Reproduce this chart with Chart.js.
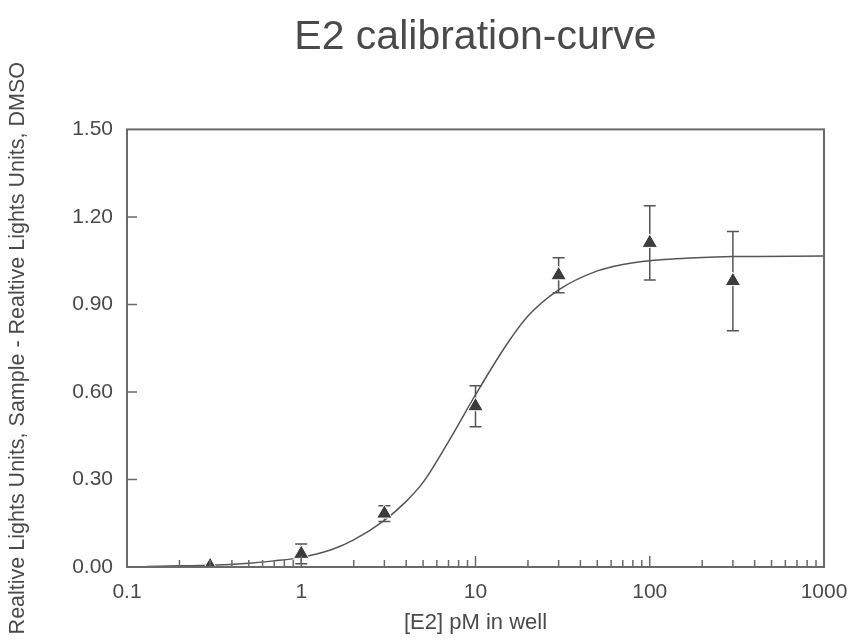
<!DOCTYPE html>
<html>
<head>
<meta charset="utf-8">
<script src="https://cdn.jsdelivr.net/npm/chart.js@4.4.0/dist/chart.umd.min.js"></script>
<style>
  body { margin: 0; background: #fff; }
  #wrap { width: 851px; height: 644px; position: relative; }
</style>
</head>
<body>
<div id="wrap"><canvas id="myChart"></canvas></div>
<script>
// measured points (E2 concentration in pM, response, +/- error)
const concentrations = [0.3, 1, 3, 10, 30, 100, 300];
const responses = [0.003, 0.045, 0.183, 0.551, 1.0, 1.111, 0.98];
const errors = [0, 0.034, 0.027, 0.07, 0.06, 0.127, 0.17];

// fitted curve
const curveX = [0.13, 0.2, 0.3, 0.5, 0.7, 1, 1.5, 2, 3, 4, 5, 7, 10, 15, 20, 30, 50, 70, 100, 200, 300, 1000];
const curveY = [0.002, 0.004, 0.006, 0.013, 0.021, 0.033, 0.06, 0.093, 0.16, 0.225, 0.29, 0.43, 0.59, 0.76, 0.86, 0.95, 1.015, 1.037, 1.05, 1.061, 1.064, 1.066];

// tick labels
const xMajorTicks = [0.1, 1, 10, 100, 1000];
const yTicks = [0, 0.3, 0.6, 0.9, 1.2, 1.5];

const textColor = "#4a4a4a";
const lineColor = "#555555";
const fontFamily = "Arial, 'Liberation Sans'";

const errorBarsAndFrame = {
  id: "errorBarsAndFrame",
  beforeDatasetsDraw(chart) {
    const ctx = chart.ctx;
    const xs = chart.scales.x;
    const ys = chart.scales.y;
    ctx.save();
    ctx.strokeStyle = lineColor;
    ctx.lineWidth = 1.5;
    concentrations.forEach((c, i) => {
      if (!errors[i]) return;
      const px = xs.getPixelForValue(c);
      const top = ys.getPixelForValue(responses[i] + errors[i]);
      const bot = ys.getPixelForValue(responses[i] - errors[i]);
      ctx.beginPath();
      ctx.moveTo(px, top);
      ctx.lineTo(px, bot);
      ctx.moveTo(px - 6, top);
      ctx.lineTo(px + 6, top);
      ctx.moveTo(px - 6, bot);
      ctx.lineTo(px + 6, bot);
      ctx.stroke();
    });
    ctx.restore();
  },
  afterDraw(chart) {
    const ctx = chart.ctx;
    const area = chart.chartArea;
    const xs = chart.scales.x;
    const ys = chart.scales.y;
    ctx.save();
    ctx.strokeStyle = "#6a6a6a";
    ctx.lineWidth = 2;
    ctx.strokeRect(area.left, area.top, area.right - area.left, area.bottom - area.top);

    // inward ticks on the x axis (decades + minor)
    ctx.lineWidth = 1.5;
    ctx.beginPath();
    for (let d = 0; d < xMajorTicks.length - 1; d++) {
      for (let m = 1; m <= 9; m++) {
        if (d === 0 && m === 1) continue;
        const v = xMajorTicks[d] * m;
        const px = xs.getPixelForValue(v);
        const len = m === 1 ? 11 : 7;
        ctx.moveTo(px, area.bottom);
        ctx.lineTo(px, area.bottom - len);
      }
    }
    // inward ticks on the y axis
    yTicks.forEach((v) => {
      if (v === yTicks[0] || v === yTicks[yTicks.length - 1]) return;
      const py = ys.getPixelForValue(v);
      ctx.moveTo(area.left, py);
      ctx.lineTo(area.left + 10, py);
    });
    ctx.stroke();
    ctx.restore();
  },
};

const ctx1 = document.getElementById("myChart");
new Chart(ctx1, {
  data: {
    datasets: [
      {
        type: "scatter",
        label: "E2",
        data: concentrations.map((c, i) => ({ x: c, y: responses[i] })),
        pointStyle: "triangle",
        pointRadius: 9,
        backgroundColor: "#3c3c3c",
        borderColor: "#ffffff",
        borderWidth: 1,
        order: 1,
      },
      {
        type: "line",
        label: "fit",
        data: curveX.map((x, i) => ({ x: x, y: curveY[i] })),
        borderColor: lineColor,
        borderWidth: 1.5,
        pointRadius: 0,
        fill: false,
        cubicInterpolationMode: "monotone",
        order: 2,
      },
    ],
  },
  options: {
    responsive: true,
    maintainAspectRatio: false,
    animation: false,
    layout: { padding: { top: 0, left: 0, right: 27, bottom: 0 } },
    plugins: {
      legend: { display: false },
      tooltip: { enabled: false },
      title: {
        display: true,
        fullSize: false,
        text: "E2 calibration-curve",
        color: textColor,
        font: { family: fontFamily, size: 41, weight: "normal" },
        padding: { top: 13, bottom: 67.2 },
      },
    },
    scales: {
      x: {
        type: "logarithmic",
        min: 0.1,
        max: 1000,
        afterBuildTicks: (scale) => {
          scale.ticks = xMajorTicks.map((v) => ({ value: v }));
        },
        afterFit: (scale) => {
          scale.height = 77;
          scale.paddingLeft = 0;
          scale.paddingRight = 0;
        },
        grid: { display: false, drawTicks: false },
        border: { display: false },
        ticks: {
          color: textColor,
          padding: 13,
          maxRotation: 0,
          autoSkip: false,
          font: { family: fontFamily, size: 21 },
          callback: (v) => String(v),
        },
        title: {
          display: true,
          text: "[E2] pM in well",
          color: textColor,
          font: { family: fontFamily, size: 22 },
          padding: { top: 0, bottom: 8 },
        },
      },
      y: {
        type: "linear",
        min: 0,
        max: 1.5,
        afterBuildTicks: (scale) => {
          scale.ticks = yTicks.map((v) => ({ value: v }));
        },
        afterFit: (scale) => {
          scale.width = 127;
          scale.paddingTop = 0;
          scale.paddingBottom = 0;
        },
        grid: { display: false, drawTicks: false },
        border: { display: false },
        ticks: {
          color: textColor,
          padding: 14,
          font: { family: fontFamily, size: 21 },
          callback: (v) => Number(v).toFixed(2),
        },
        title: {
          display: true,
          text: "Realtive Lights Units, Sample - Realtive Lights Units, DMSO",
          color: textColor,
          font: { family: fontFamily, size: 21.5 },
          padding: { top: 5, bottom: 0 },
        },
      },
    },
  },
  plugins: [errorBarsAndFrame],
});
</script>
</body>
</html>
